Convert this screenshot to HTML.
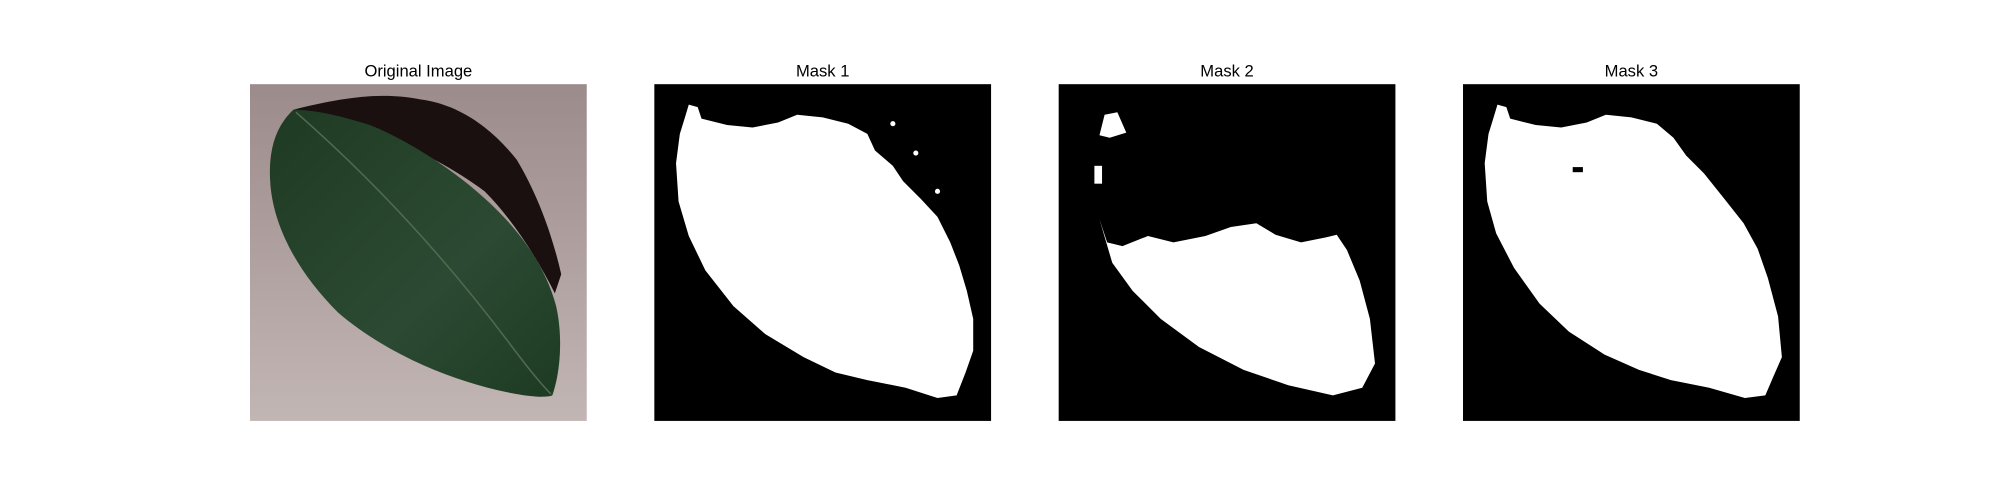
<!DOCTYPE html>
<html><head><meta charset="utf-8"><style>
html,body{margin:0;padding:0;background:#fff;}
svg{display:block;}
text{font-family:"Liberation Sans","DejaVu Sans",sans-serif;font-size:13px;fill:#000;}
</style></head><body>
<svg width="2000" height="500" viewBox="0 0 1568 392" xmlns="http://www.w3.org/2000/svg">
<defs>
<linearGradient id="bg" x1="0" y1="0" x2="0" y2="1"><stop offset="0" stop-color="#9c8b8b"/><stop offset="1" stop-color="#c2b6b4"/></linearGradient>
<linearGradient id="lf" x1="0" y1="0" x2="1" y2="1"><stop offset="0" stop-color="#1f3a22"/><stop offset="0.6" stop-color="#2c4a33"/><stop offset="1" stop-color="#1d3a22"/></linearGradient>
</defs>
<g>
<text x="328" y="60" text-anchor="middle">Original Image</text>
<rect x="196" y="66" width="264" height="264" fill="url(#bg)"/>
<path d="M230,86 C270,76 300,72 330,78 C360,82 385,100 405,125 C420,150 432,180 440,215 L435,230 C420,200 400,170 380,150 C340,120 290,100 230,86 Z" fill="#1a1010"/>
<path d="M230,86 C215,100 210,120 212,145 C215,180 235,215 265,245 C300,275 350,298 400,308 C415,311 428,312 433,310 C440,290 441,262 436,240 C428,210 410,185 390,165 C360,135 320,110 290,98 C265,90 245,86 230,86 Z" fill="url(#lf)"/>
<path d="M232,88 C280,130 340,190 400,270 C415,290 425,302 432,309" stroke="#4f6a4f" stroke-width="1.2" fill="none"/>
</g>
<g>
<text x="645" y="60" text-anchor="middle">Mask 1</text>
<rect x="513" y="66" width="264" height="264" fill="#000"/>
<path fill="#fff" d="M540,82 L547,84 L550,93 L570,98 L590,100 L610,96 L625,90 L645,92 L665,97 L680,105 L686,118 L700,130 L708,142 L722,156 L735,170 L745,190 L752,208 L758,228 L763,250 L763,275 L757,292 L750,310 L735,312 L710,304 L680,298 L655,292 L630,280 L600,262 L575,240 L553,212 L540,185 L532,158 L530,128 L533,105 L537,92 Z"/>
<circle cx="700" cy="97" r="2" fill="#fff"/><circle cx="718" cy="120" r="2" fill="#fff"/><circle cx="735" cy="150" r="2" fill="#fff"/>
</g>
<g>
<text x="962" y="60" text-anchor="middle">Mask 2</text>
<rect x="830" y="66" width="264" height="264" fill="#000"/>
<path fill="#fff" d="M862,172 L868,190 L880,193 L900,185 L920,190 L945,185 L965,178 L985,175 L1000,184 L1020,190 L1040,186 L1048,184 L1056,196 L1066,220 L1074,250 L1078,285 L1068,304 L1045,310 L1010,302 L975,290 L940,272 L910,250 L888,228 L872,206 Z"/>
<path fill="#fff" d="M866,90 L876,88 L883,104 L870,108 L862,106 Z"/>
<rect x="858" y="130" width="6" height="14" fill="#fff"/>
</g>
<g>
<text x="1279" y="60" text-anchor="middle">Mask 3</text>
<rect x="1147" y="66" width="264" height="264" fill="#000"/>
<path fill="#fff" d="M1174,82 L1181,84 L1184,93 L1204,98 L1224,100 L1244,96 L1259,90 L1279,92 L1299,97 L1312,108 L1322,122 L1336,136 L1352,156 L1367,175 L1378,195 L1386,218 L1394,248 L1397,280 L1390,296 L1384,310 L1368,312 L1340,304 L1310,298 L1285,290 L1258,278 L1230,260 L1207,238 L1187,210 L1173,183 L1166,158 L1164,128 L1167,105 L1171,92 Z"/>
<rect x="1233" y="131" width="8" height="4" fill="#000"/>
</g>
</svg>
</body></html>
